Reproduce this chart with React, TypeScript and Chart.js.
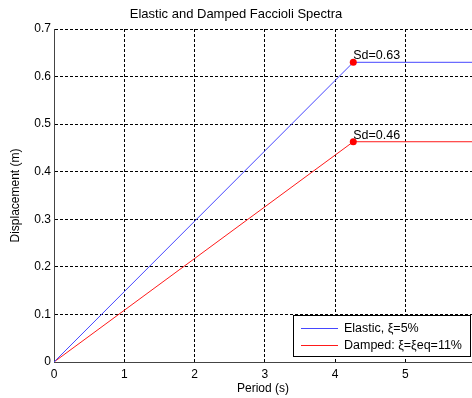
import React, { useEffect, useRef } from "react";
import { Chart, registerables } from "chart.js";

Chart.register(...registerables);

// ---- data ----
const periods = [0, 4.26, 5.95];
const elasticSd = [0, 0.63, 0.63];
const dampedSd = [0, 0.463, 0.463];
const cornerIndex = 1;
const seriesLabels = ["Elastic, \u03BE=5%", "Damped: \u03BE=\u03BEeq=11%"];
const seriesColors = ["#4646ff", "#ff1a1a"];
const annotationTexts = ["Sd=0.63", "Sd=0.46"];
const xTickValues = [0, 1, 2, 3, 4, 5];
const xTickLabels = ["0", "1", "2", "3", "4", "5"];
const yTickValues = [0, 0.1, 0.2, 0.3, 0.4, 0.5, 0.6, 0.7];
const yTickLabels = ["0", "0.1", "0.2", "0.3", "0.4", "0.5", "0.6", "0.7"];
const titleText = "Elastic and Damped Faccioli Spectra";
const xTitle = "Period (s)";
const yTitle = "Displacement (m)";

const FAMILY = "'Liberation Sans', Arial, Helvetica, sans-serif";

const overlayPlugin = {
  id: "overlay",
  afterDatasetsDraw(chart: any) {
    const { ctx, chartArea, scales } = chart;
    ctx.save();
    ctx.font = `12.5px ${FAMILY}`;
    ctx.fillStyle = "#000";
    ctx.textAlign = "left";
    ctx.textBaseline = "alphabetic";
    const series = [elasticSd, dampedSd];
    series.forEach((vals, i) => {
      const px = scales.x.getPixelForValue(periods[cornerIndex]);
      const py = scales.y.getPixelForValue(vals[cornerIndex]);
      ctx.fillText(annotationTexts[i], px, py - 3);
    });

    // legend box
    const w = 178;
    const h = 42;
    const right = chartArea.right - 1;
    const bottom = chartArea.bottom - 5;
    const left = right - w;
    const top = bottom - h;
    ctx.fillStyle = "#fff";
    ctx.fillRect(left, top, w, h);
    ctx.strokeStyle = "#000";
    ctx.lineWidth = 1;
    ctx.strokeRect(Math.round(left) + 0.5, Math.round(top) + 0.5, w - 1, h - 1);
    ctx.textBaseline = "middle";
    seriesLabels.forEach((label, i) => {
      const y = Math.round(top + 13 + i * 17) + 0.5;
      ctx.strokeStyle = seriesColors[i];
      ctx.beginPath();
      ctx.moveTo(left + 8, y);
      ctx.lineTo(left + 45, y);
      ctx.stroke();
      ctx.fillStyle = "#000";
      ctx.fillText(label, left + 51, y);
    });
    ctx.restore();
  },
};

export default function App() {
  const canvasRef = useRef<HTMLCanvasElement | null>(null);

  useEffect(() => {
    if (!canvasRef.current) return;
    const font = { family: FAMILY, size: 12 };
    const chart = new Chart(canvasRef.current, {
      type: "line",
      data: {
        datasets: [elasticSd, dampedSd].map((vals, i) => ({
          label: seriesLabels[i],
          data: periods.map((p, j) => ({ x: p, y: vals[j] })),
          borderColor: seriesColors[i],
          borderWidth: 1,
          tension: 0,
          fill: false,
          pointRadius: (c: any) => (c.dataIndex === cornerIndex ? 3.5 : 0),
          pointHoverRadius: 0,
          pointBackgroundColor: "#ff0000",
          pointBorderColor: "#ff0000",
          pointBorderWidth: 0,
        })),
      },
      options: {
        responsive: false,
        animation: false,
        events: [],
        layout: { padding: 0 },
        plugins: {
          legend: { display: false },
          tooltip: { enabled: false },
          title: {
            display: true,
            text: titleText,
            color: "#000",
            font: { family: FAMILY, size: 13, weight: "normal" },
            padding: { top: 7, bottom: 6.4 },
          },
        },
        scales: {
          x: {
            type: "linear",
            min: 0,
            max: 5.95,
            afterBuildTicks: (scale: any) => {
              scale.ticks = xTickValues.map((v) => ({ value: v }));
            },
            afterFit: (scale: any) => {
              scale.height = 36;
            },
            ticks: {
              color: "#000",
              font,
              padding: 5,
              maxRotation: 0,
              autoSkip: false,
              callback: (_v: any, i: number) => xTickLabels[i],
            },
            grid: { color: "#000", lineWidth: 1, drawTicks: false },
            border: { display: true, color: "#444", width: 1, dash: [3, 2] },
            title: {
              display: true,
              text: xTitle,
              color: "#000",
              font,
              padding: { top: 0, bottom: 2.4 },
            },
          },
          y: {
            type: "linear",
            min: 0,
            max: 0.7,
            afterBuildTicks: (scale: any) => {
              scale.ticks = yTickValues.map((v) => ({ value: v }));
            },
            afterFit: (scale: any) => {
              scale.width = 54;
            },
            ticks: {
              color: "#000",
              font,
              padding: 3,
              autoSkip: false,
              callback: (_v: any, i: number) => yTickLabels[i],
            },
            grid: { color: "#000", lineWidth: 1, drawTicks: false },
            border: { display: true, color: "#444", width: 1, dash: [3, 2] },
            title: {
              display: true,
              text: yTitle,
              color: "#000",
              font,
              padding: { top: 8.4, bottom: 0 },
            },
          },
        },
      },
      plugins: [overlayPlugin],
    } as any);
    return () => chart.destroy();
  }, []);

  return (
    <div style={{ position: "absolute", left: 0, top: 0, width: 472, height: 398, background: "#fff" }}>
      <canvas ref={canvasRef} width={472} height={398} />
    </div>
  );
}
